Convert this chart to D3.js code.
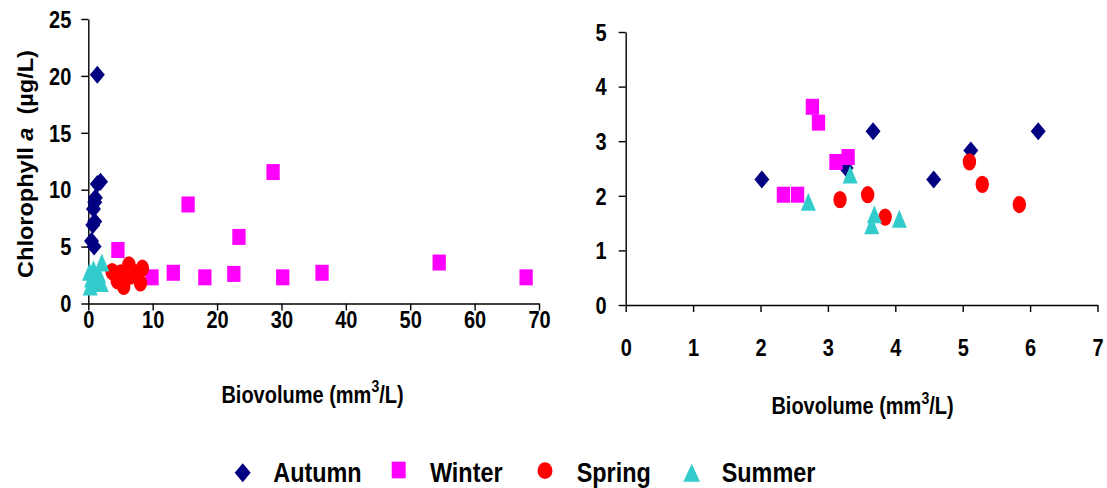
<!DOCTYPE html>
<html>
<head>
<meta charset="utf-8">
<script src="https://cdnjs.cloudflare.com/ajax/libs/d3/7.8.5/d3.min.js"></script>
<style>
  html, body { margin: 0; padding: 0; background: #fff; }
  svg { display: block; }
  text { font-family: "Liberation Sans", Arial, Helvetica, sans-serif; font-weight: bold; fill: #000; }
</style>
</head>
<body>
<svg id="chart" width="1107" height="488"></svg>
<script>
// ---------------- DATA ----------------
const seasons = ["Autumn", "Winter", "Spring", "Summer"];
const seasonColors = ["#000080", "#FF00FF", "#FF0000", "#33CCCC"];

// Left panel: [biovolume mm3/L, chlorophyll a µg/L]
const autumnLeft = [[1.4,20.1],[1.9,10.7],[1.4,10.5],[1.1,9.3],[1.0,8.9],[0.8,8.3],[1.0,7.2],[0.7,6.9],[0.5,5.5],[0.9,5.0]];
const winterLeft = [[4.6,4.7],[15.5,8.7],[28.7,11.55],[23.4,5.85],[9.9,2.3],[13.2,2.7],[18.1,2.3],[22.6,2.6],[30.2,2.3],[36.3,2.7],[54.5,3.6],[68.0,2.3]];
const springLeft = [[3.7,2.8],[4.5,2.0],[6.3,3.4],[6.5,2.4],[5.5,1.5],[8.4,3.1],[8.1,1.8],[7.3,2.7],[5.0,2.7]];
const summerLeft = [[0.3,1.5],[0.5,2.2],[0.8,3.0],[1.2,1.9],[1.6,2.6],[2.1,3.6],[2.0,1.8],[0.2,2.8]];

// Right panel
const autumnRight = [[2.02,2.30],[3.67,3.18],[3.27,2.51],[4.57,2.30],[5.12,2.83],[6.12,3.18]];
const winterRight = [[2.77,3.63],[2.86,3.34],[3.12,2.62],[3.30,2.71],[2.34,2.02],[2.55,2.02]];
const springRight = [[3.18,1.93],[3.59,2.02],[3.85,1.61],[5.10,2.62],[5.29,2.21],[5.84,1.84]];
const summerRight = [[3.33,2.39],[2.71,1.89],[3.69,1.66],[3.65,1.46],[4.06,1.58]];

const leftXTicks = [0,10,20,30,40,50,60,70];
const leftYTicks = [0,5,10,15,20,25];
const rightXTicks = [0,1,2,3,4,5,6,7];
const rightYTicks = [0,1,2,3,4,5];

// ---------------- DRAWING ----------------
const SY = 1.18; // vertical stretch of the original
const svg = d3.select("#chart");
const fmt = d3.format("d");

function markerPath(kind, w, h) {
  if (kind === 0) return `M0,${-h/2}L${w/2},0L0,${h/2}L${-w/2},0Z`;
  if (kind === 1) return `M${-w/2},${-h/2}h${w}v${h}h${-w}Z`;
  if (kind === 2) { const rx = w/2, ry = h/2;
    return `M${-rx},0A${rx},${ry} 0 1,0 ${rx},0A${rx},${ry} 0 1,0 ${-rx},0Z`; }
  return `M0,${-h/2}L${w/2},${h/2}L${-w/2},${h/2}Z`;
}
const markerSize = [[15,18],[13.3,16],[13.4,17.2],[15,18]];

function panel(opts) {
  const g = svg.append("g");
  const x = d3.scaleLinear().domain(opts.xDomain).range(opts.xRange);
  const y = d3.scaleLinear().domain(opts.yDomain).range(opts.yRange);

  const xAxis = g.append("g").attr("transform", `translate(0,${opts.yRange[0]})`)
    .call(d3.axisBottom(x).tickValues(opts.xTicks).tickFormat(fmt).tickSize(7).tickSizeOuter(0).tickPadding(0));
  const yAxis = g.append("g").attr("transform", `translate(${opts.xRange[0]},0)`)
    .call(d3.axisLeft(y).tickValues(opts.yTicks).tickFormat(fmt).tickSize(7).tickSizeOuter(0).tickPadding(0));

  [xAxis, yAxis].forEach(a => {
    a.select(".domain").attr("stroke", "#000").attr("stroke-width", 1.4);
    a.selectAll(".tick line").attr("stroke", "#000").attr("stroke-width", 1.4);
    a.selectAll(".tick text").attr("font-family", null).attr("font-size", null)
      .style("font-size", "20px");
  });
  xAxis.selectAll(".tick text")
    .attr("y", opts.xLabelBase / SY).attr("dy", "0")
    .attr("transform", `scale(1,${SY})`);
  yAxis.selectAll(".tick text")
    .attr("x", opts.yLabelRight).attr("dy", "0.35em")
    .attr("transform", `scale(1,${SY})`);

  opts.series.forEach((data, i) => {
    g.append("g").selectAll("path").data(data).join("path")
      .attr("transform", d => `translate(${x(d[0])},${y(d[1])})`)
      .attr("d", markerPath(i, markerSize[i][0], markerSize[i][1]))
      .attr("fill", seasonColors[i]);
  });

  const t = g.append("text")
    .attr("transform", `translate(${opts.titleX},${opts.titleY}) scale(1,1.15)`)
    .attr("text-anchor", "middle").style("font-size", "20px");
  t.append("tspan").text("Biovolume (mm");
  t.append("tspan").attr("dy", -9).style("font-size", "14px").text("3");
  t.append("tspan").attr("dy", 9).text("/L)");
  return { x, y };
}

panel({
  xDomain: [0, 70], xRange: [88.3, 539],
  yDomain: [0, 25], yRange: [303.5, 19],
  xTicks: leftXTicks, yTicks: leftYTicks,
  xLabelBase: 25, yLabelRight: -17,
  series: [autumnLeft, winterLeft, springLeft, summerLeft],
  titleX: 312.5, titleY: 402.7
});

panel({
  xDomain: [0, 7], xRange: [625.7, 1097.5],
  yDomain: [0, 5], yRange: [305, 32],
  xTicks: rightXTicks, yTicks: rightYTicks,
  xLabelBase: 51.5, yLabelRight: -19,
  series: [autumnRight, winterRight, springRight, summerRight],
  titleX: 862.5, titleY: 414.3
});

// Y axis title (left panel)
const yt = svg.append("text")
  .attr("transform", `translate(33,164) rotate(-90) scale(1.07,1)`)
  .attr("text-anchor", "middle").style("font-size", "22px").style("white-space", "pre");
yt.append("tspan").text("Chlorophyll ");
yt.append("tspan").style("font-style", "italic").text("a");
yt.append("tspan").text("  (\u00B5g/L)");

// Legend
const legendMarkX = [242.7, 398.7, 545, 691.7];
const legendMarkY = [472.7, 470, 470.7, 472.7];
const legendMarkSize = [[16,19],[14,16.7],[15,16.7],[16.7,18]];
const legendTextX = [273.3, 430, 576.7, 721.7];
const legend = svg.append("g");
seasons.forEach((s, i) => {
  legend.append("path")
    .attr("transform", `translate(${legendMarkX[i]},${legendMarkY[i]})`)
    .attr("d", markerPath(i, legendMarkSize[i][0], legendMarkSize[i][1]))
    .attr("fill", seasonColors[i]);
  legend.append("text")
    .attr("transform", `translate(${legendTextX[i]},481.7) scale(1,1.19)`)
    .style("font-size", "23.4px").text(s);
});
</script>
</body>
</html>
